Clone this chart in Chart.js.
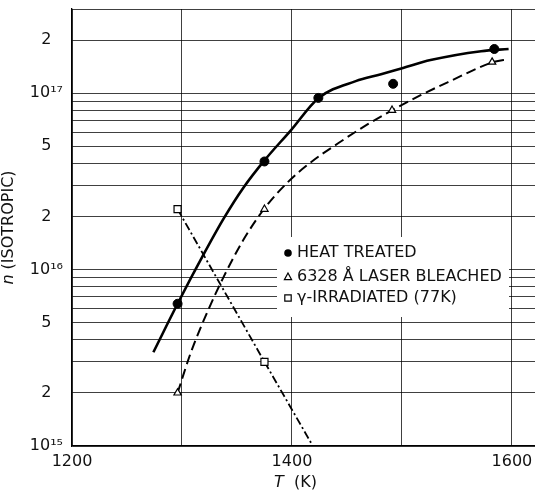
<!DOCTYPE html>
<html>
<head>
<meta charset="utf-8">
<script src="https://cdn.jsdelivr.net/npm/chart.js@4.4.0/dist/chart.umd.min.js"></script>
<style>
  html, body { margin: 0; padding: 0; background: #fff; }
  #wrap { width: 535px; height: 495px; }
</style>
</head>
<body>
<div id="wrap"><canvas id="nChart" width="535" height="495"></canvas></div>
<script>
// measured points, T in K and n per cm^3
const heatT = [1296, 1375, 1424, 1492, 1584];
const heatN = [6.4e15, 4.1e16, 9.4e16, 1.13e17, 1.78e17];
const laserT = [1296, 1375, 1491, 1582];
const laserN = [2.0e15, 2.2e16, 8.0e16, 1.5e17];
const gammaT = [1296, 1375];
const gammaN = [2.2e16, 3.0e15];

// hand drawn curves
const heatCurveT = [1274, 1296, 1320, 1338, 1356, 1375, 1399, 1424, 1458, 1481, 1501, 1526, 1572, 1597];
const heatCurveN = [3.4e15, 6.4e15, 1.23e16, 1.95e16, 2.92e16, 4.16e16, 6.16e16, 9.37e16, 1.17e17, 1.28e17, 1.39e17, 1.54e17, 1.73e17, 1.78e17];
const laserCurveT = [1296, 1308, 1324, 1338, 1356, 1375, 1396, 1417, 1442, 1469, 1491, 1517, 1542, 1583, 1597];
const laserCurveN = [2.0e15, 3.38e15, 5.93e15, 9.12e15, 1.48e16, 2.22e16, 3.12e16, 4.05e16, 5.2e16, 6.67e16, 8.0e16, 9.74e16, 1.155e17, 1.5e17, 1.56e17];
const gammaCurveT = [1296, 1375, 1419];
const gammaCurveN = [2.2e16, 3.0e15, 1.0e15];

// axes
const xGrid = [1200, 1300, 1400, 1500, 1600];
const xLabels = ['1200', '', '1400', '', '1600'];
const yGrid = [1e15, 2e15, 3e15, 4e15, 5e15, 6e15, 7e15, 8e15, 9e15,
               1e16, 2e16, 3e16, 4e16, 5e16, 6e16, 7e16, 8e16, 9e16,
               1e17, 2e17, 3e17];
const yLabels = ['10\u00b9\u2075', '2', '', '', '5', '', '', '', '',
                 '10\u00b9\u2076', '2', '', '', '5', '', '', '', '',
                 '10\u00b9\u2077', '2', ''];

const legendLabels = ['HEAT TREATED', '6328 \u00c5 LASER BLEACHED', '\u03b3-IRRADIATED (77K)'];

const FONT = '"DejaVu Sans", "Liberation Sans", sans-serif';

function pts(xs, ys) {
    return xs.map((x, i) => ({ x: x, y: ys[i] }));
}

// draws pieces of text with different font styles, centred on x
function drawMixed(ctx, parts, x, y, size) {
    const widths = parts.map(p => {
        ctx.font = `${p[0]} ${size}px ${FONT}`;
        return ctx.measureText(p[1]).width;
    });
    let cx = x - widths.reduce((a, b) => a + b, 0) / 2;
    parts.forEach((p, i) => {
        ctx.font = `${p[0]} ${size}px ${FONT}`;
        ctx.fillText(p[1], cx, y);
        cx += widths[i];
    });
}

function drawSymbol(ctx, style, x, y) {
    ctx.beginPath();
    if (style === 'circle') {
        ctx.arc(x, y, 3.8, 0, Math.PI * 2);
        ctx.fillStyle = '#000';
        ctx.fill();
        return;
    }
    if (style === 'triangle') {
        ctx.moveTo(x, y - 4);
        ctx.lineTo(x + 3.6, y + 2.6);
        ctx.lineTo(x - 3.6, y + 2.6);
        ctx.closePath();
    } else {
        ctx.rect(x - 3.2, y - 3.2, 6.4, 6.4);
    }
    ctx.fillStyle = '#fff';
    ctx.fill();
    ctx.lineWidth = 1.2;
    ctx.strokeStyle = '#000';
    ctx.stroke();
}

// legend in a white box inside the plot, covering the grid
const boxLegend = {
    id: 'boxLegend',
    afterDatasetsDraw(chart) {
        const { ctx, chartArea: a } = chart;
        const styles = ['circle', 'triangle', 'rect'];
        const rows = [244, 268, 289];
        ctx.save();
        ctx.fillStyle = '#fff';
        ctx.fillRect(a.left + 205, a.top + 228, 232, 80);
        ctx.textBaseline = 'middle';
        ctx.textAlign = 'left';
        legendLabels.forEach((txt, i) => {
            const y = a.top + rows[i];
            drawSymbol(ctx, styles[i], a.left + 216, y);
            ctx.fillStyle = '#111';
            ctx.font = `16px ${FONT}`;
            ctx.fillText(txt, a.left + 225, y);
        });
        ctx.restore();
    }
};

// axis titles with an italic symbol
const axisTitles = {
    id: 'axisTitles',
    afterDraw(chart) {
        const { ctx, chartArea: a } = chart;
        ctx.save();
        ctx.fillStyle = '#111';
        ctx.textBaseline = 'middle';
        ctx.textAlign = 'left';
        drawMixed(ctx, [['italic', 'T'], ['', '  (K)']], (a.left + a.right) / 2 - 8, 483, 16);
        ctx.translate(9, (a.top + a.bottom) / 2);
        ctx.rotate(-Math.PI / 2);
        drawMixed(ctx, [['italic', 'n'], ['', ' (ISOTROPIC)']], 0, 0, 16);
        ctx.restore();
    }
};

document.addEventListener('DOMContentLoaded', function () {
    const ctx = document.getElementById('nChart').getContext('2d');

    new Chart(ctx, {
        type: 'line',
        data: {
            datasets: [
                {
                    data: pts(heatCurveT, heatCurveN),
                    borderColor: '#000',
                    borderWidth: 2.6,
                    pointRadius: 0,
                    cubicInterpolationMode: 'monotone',
                    order: 3
                },
                {
                    data: pts(laserCurveT, laserCurveN),
                    borderColor: '#000',
                    borderWidth: 2,
                    borderDash: [10, 5],
                    pointRadius: 0,
                    cubicInterpolationMode: 'monotone',
                    order: 3
                },
                {
                    data: pts(gammaCurveT, gammaCurveN),
                    borderColor: '#000',
                    borderWidth: 1.8,
                    borderDash: [8, 3, 2, 3],
                    pointRadius: 0,
                    tension: 0,
                    order: 3
                },
                {
                    label: legendLabels[0],
                    data: pts(heatT, heatN),
                    showLine: false,
                    pointStyle: 'circle',
                    pointRadius: 4.5,
                    backgroundColor: '#000',
                    borderColor: '#000',
                    order: 1
                },
                {
                    label: legendLabels[1],
                    data: pts(laserT, laserN),
                    showLine: false,
                    pointStyle: 'triangle',
                    pointRadius: 4.2,
                    backgroundColor: '#fff',
                    borderColor: '#000',
                    borderWidth: 1.2,
                    order: 1
                },
                {
                    label: legendLabels[2],
                    data: pts(gammaT, gammaN),
                    showLine: false,
                    pointStyle: 'rect',
                    pointRadius: 5,
                    backgroundColor: '#fff',
                    borderColor: '#000',
                    borderWidth: 1.2,
                    order: 1
                }
            ]
        },
        options: {
            responsive: false,
            animation: false,
            layout: {
                autoPadding: false,
                padding: { top: 9, right: 0, left: 0, bottom: 0 }
            },
            plugins: {
                legend: { display: false },
                tooltip: { enabled: false }
            },
            scales: {
                x: {
                    type: 'linear',
                    min: 1200,
                    max: 1621,
                    afterBuildTicks: s => { s.ticks = xGrid.map(v => ({ value: v })); },
                    afterFit: s => {
                        s.height = 49;
                        s.paddingLeft = 0;
                        s.paddingRight = 0;
                    },
                    ticks: {
                        autoSkip: false,
                        maxRotation: 0,
                        padding: 6,
                        color: '#111',
                        font: { family: FONT, size: 16 },
                        callback: (v, i) => xLabels[i]
                    },
                    grid: { color: 'rgba(0,0,0,0.75)', lineWidth: 1, drawTicks: false },
                    border: { color: '#000', width: 1.3 }
                },
                y: {
                    type: 'logarithmic',
                    min: 1e15,
                    max: 3e17,
                    afterBuildTicks: s => { s.ticks = yGrid.map(v => ({ value: v })); },
                    afterFit: s => {
                        s.width = 72;
                        s.paddingTop = 0;
                        s.paddingBottom = 0;
                    },
                    ticks: {
                        autoSkip: false,
                        padding: 9,
                        crossAlign: 'center',
                        color: '#111',
                        font: { family: FONT, size: 16 },
                        callback: (v, i) => yLabels[i]
                    },
                    grid: { color: 'rgba(0,0,0,0.75)', lineWidth: 1, drawTicks: false },
                    border: { color: '#000', width: 1.3 }
                }
            }
        },
        plugins: [boxLegend, axisTitles]
    });
});
</script>
</body>
</html>
